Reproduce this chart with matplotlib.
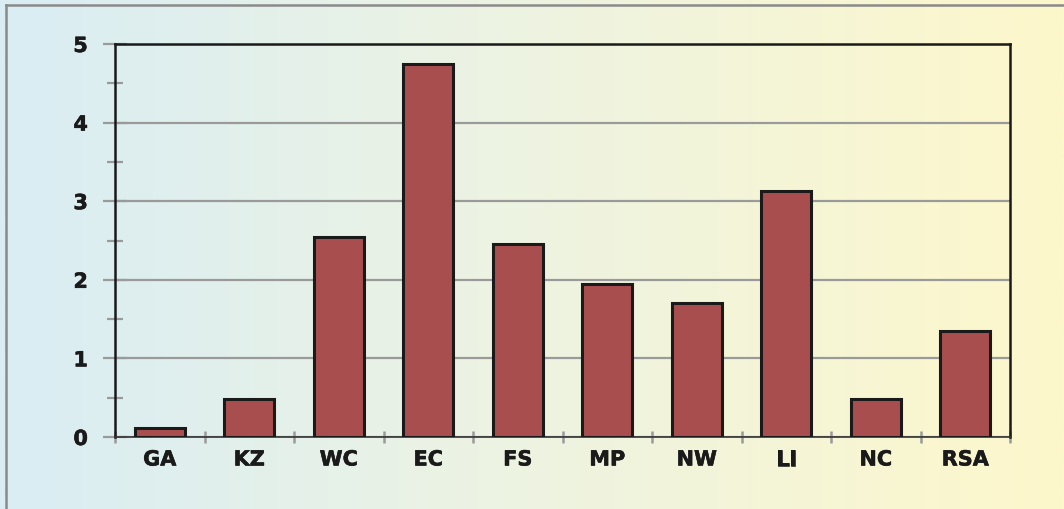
import numpy as np
import matplotlib
matplotlib.use("Agg")
import matplotlib.pyplot as plt
import matplotlib.patheffects as pe
from matplotlib.colors import LinearSegmentedColormap
from matplotlib.lines import Line2D

categories = ["GA", "KZ", "WC", "EC", "FS", "MP", "NW", "LI", "NC", "RSA"]
values = [0.11, 0.48, 2.54, 4.74, 2.46, 1.95, 1.70, 3.13, 0.48, 1.35]
yticks = [0, 1, 2, 3, 4, 5]

W, H = 1064, 510
fig = plt.figure(figsize=(W / 100, H / 100), dpi=100)

# background gradient
bg = fig.add_axes([0, 0, 1, 1], zorder=0)
cmap = LinearSegmentedColormap.from_list(
    "bg", [(0.0, "#d9edf4"), (0.45, "#ecf3e3"), (1.0, "#fdf7cb")])
grad = np.linspace(0, 1, 512).reshape(1, -1)
bg.imshow(grad, aspect="auto", cmap=cmap, extent=[0, 1, 0, 1])
bg.set_xlim(0, 1)
bg.set_ylim(0, 1)
bg.axis("off")

# figure border (top and left visible)
fig.add_artist(Line2D([6 / W, 1], [1 - 5.5 / H, 1 - 5.5 / H], transform=fig.transFigure,
                      color="#8a8a8a", lw=1.8, zorder=5))
fig.add_artist(Line2D([6 / W, 6 / W], [0, 1 - 5.5 / H], transform=fig.transFigure,
                      color="#8a8a8a", lw=1.8, zorder=5))

left, right = 115 / W, 1010 / W
bottom, top = (H - 438) / H, (H - 45) / H
ax = fig.add_axes([left, bottom, right - left, top - bottom], zorder=2)
ax.patch.set_alpha(0)

x = np.arange(len(categories))
ax.bar(x, values, width=0.56, color="#a94e4e", edgecolor="#1a1a1a", linewidth=2.2, zorder=3)

ax.set_xlim(-0.5, len(categories) - 0.5)
ax.set_ylim(0, 5)

ax.set_yticks(yticks)
ax.set_yticks(np.arange(0.5, 5, 1.0), minor=True)
ax.set_xticks(x)
ax.set_xticklabels(categories)
ax.set_xticks(np.arange(-0.5, len(categories), 1.0), minor=True)

ax.yaxis.grid(True, color="#9a9a9a", linewidth=1.6, zorder=1)
ax.set_axisbelow(True)

ax.tick_params(axis="y", which="major", direction="inout", length=17, width=1.6,
               color="#9a9a9a", pad=11, labelsize=15)
ax.tick_params(axis="y", which="minor", direction="inout", length=11.5, width=1.6,
               color="#9a9a9a")
ax.tick_params(axis="x", which="major", length=0, pad=9, labelsize=15)
ax.tick_params(axis="x", which="minor", direction="inout", length=8, width=1.8,
               color="#9a9a9a")
stroke = [pe.withStroke(linewidth=0.4, foreground="#1a1a1a")]
for lab in ax.get_xticklabels() + ax.get_yticklabels():
    lab.set_fontweight("bold")
    lab.set_color("#1a1a1a")
    lab.set_path_effects(stroke)

for s in ["left", "top", "right"]:
    ax.spines[s].set_color("#1a1a1a")
    ax.spines[s].set_linewidth(1.8)
ax.spines["bottom"].set_color("#333333")
ax.spines["bottom"].set_linewidth(1.2)

fig.savefig("out.png", dpi=100)
